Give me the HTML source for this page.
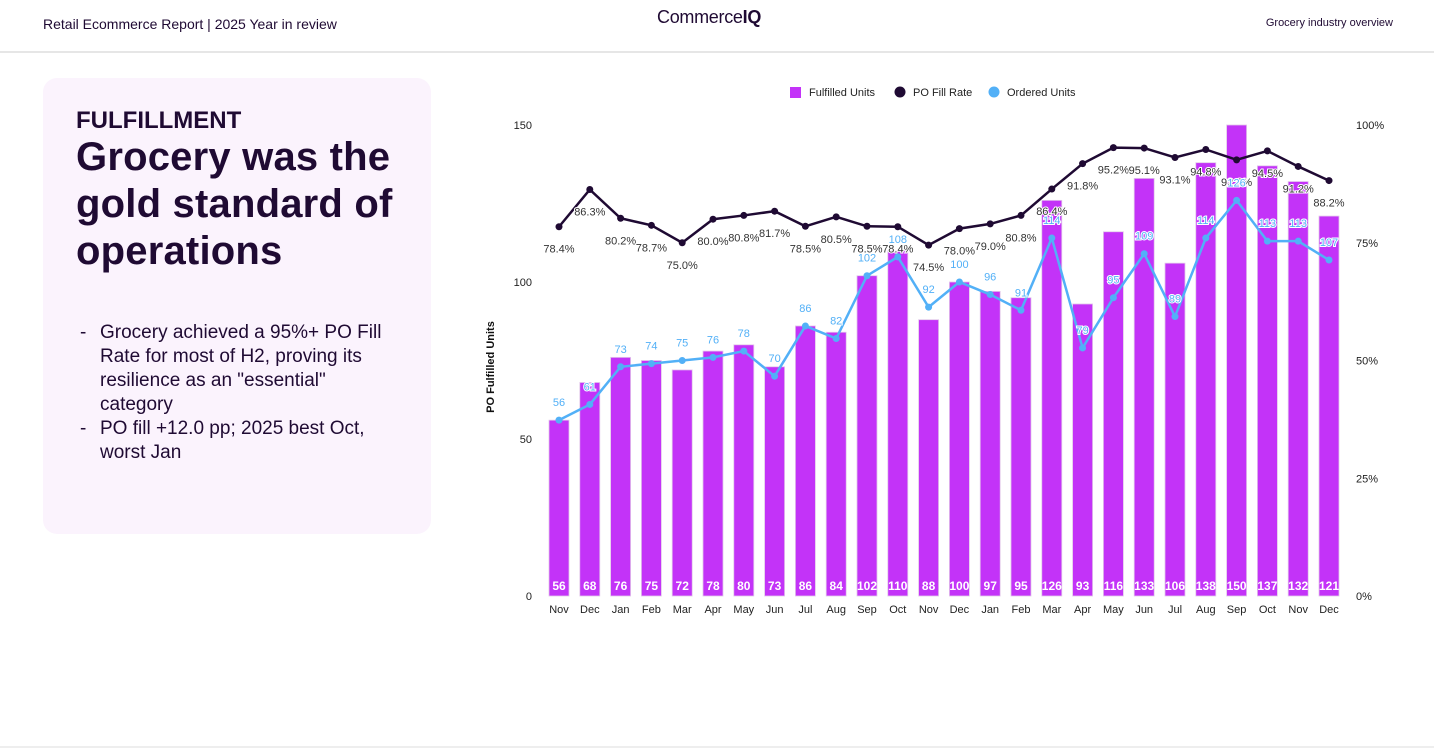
<!DOCTYPE html>
<html><head><meta charset="utf-8"><style>
body{margin:0;width:1434px;height:751px;background:#fff;font-family:"Liberation Sans",sans-serif;color:#1f0a33;position:relative;overflow:hidden}
.hdr{position:absolute;top:0;left:0;width:1434px;height:51px;border-bottom:2px solid #e6e6e6}
.card{position:absolute;left:43px;top:78px;width:388px;height:456px;background:#fbf3fd;border-radius:14px}
</style></head><body>
<div class="hdr">
<div style="position:absolute;left:43px;top:16px;font-size:14px">Retail Ecommerce Report | 2025 Year in review</div>
<div style="position:absolute;left:657px;top:7px;font-size:18px;letter-spacing:-0.3px">Commerce<b>IQ</b></div>
<div style="position:absolute;right:41px;top:17px;font-size:11px">Grocery industry overview</div>
</div>
<div class="card">
<div style="position:absolute;left:33px;top:29px;font-size:24px;font-weight:bold">FULFILLMENT</div>
<div style="position:absolute;left:33px;top:56px;width:350px;font-size:40px;font-weight:bold;line-height:47px;letter-spacing:0.2px">Grocery was the gold standard of operations</div>
<ul style="position:absolute;left:33px;top:243px;width:318px;margin:0;padding:0;list-style:none;font-size:19px;line-height:24px">
<li style="padding-left:24px;position:relative"><span style="position:absolute;left:4px">-</span>Grocery achieved a 95%+ PO Fill Rate for most of H2, proving its resilience as an "essential" category</li>
<li style="padding-left:24px;position:relative"><span style="position:absolute;left:4px">-</span>PO fill +12.0 pp; 2025 best Oct, worst Jan</li>
</ul>
</div>
<svg id="chart" width="1434" height="751" style="position:absolute;left:0;top:0" font-family="Liberation Sans, sans-serif"></svg>
<div style="position:absolute;left:0;top:746px;width:1434px;height:2px;background:#eee"></div>
<script>
const categories=["Nov","Dec","Jan","Feb","Mar","Apr","May","Jun","Jul","Aug","Sep","Oct","Nov","Dec","Jan","Feb","Mar","Apr","May","Jun","Jul","Aug","Sep","Oct","Nov","Dec"];
const fulfilledUnits=[56,68,76,75,72,78,80,73,86,84,102,110,88,100,97,95,126,93,116,133,106,138,150,137,132,121];
const poFillRate=[78.4,86.3,80.2,78.7,75.0,80.0,80.8,81.7,78.5,80.5,78.5,78.4,74.5,78.0,79.0,80.8,86.4,91.8,95.2,95.1,93.1,94.8,92.6,94.5,91.2,88.2];
const orderedUnits=[56,61,73,74,75,76,78,70,86,82,102,108,92,100,96,91,114,79,95,109,89,114,126,113,113,107];
const leftTicks=[0,50,100,150];
const rightTicks=[0,25,50,75,100];
const svg=document.getElementById('chart');const NS='http://www.w3.org/2000/svg';
const X0=543.6,BW=30.8,Y0=596,Y1=125;
const x=i=>X0+BW*(i+0.5);
const yL=v=>Y0-(v/150)*(Y0-Y1);
const yR=v=>Y0-(v/100)*(Y0-Y1);
function mk(t,a,txt){const e=document.createElementNS(NS,t);for(const k in a)e.setAttribute(k,a[k]);if(txt!=null)e.textContent=txt;svg.appendChild(e);return e;}
leftTicks.forEach(v=>{const e=mk('text',{x:532,y:yL(v)+4,'text-anchor':'end','font-size':11,fill:'#222'},v);

});
rightTicks.forEach(v=>{const e=mk('text',{x:1356,y:yR(v)+4,'font-size':11,fill:'#222'},v+'%');

});
const yt=mk('text',{x:494,y:367,'text-anchor':'middle','font-size':11,'font-weight':'bold',fill:'#111',transform:'rotate(-90 494 367)'},'PO Fulfilled Units');


fulfilledUnits.forEach((v,i)=>{const r=mk('rect',{x:x(i)-10,y:yL(v),width:20,height:Y0-yL(v),fill:'#c333f8',stroke:'#e2c8ea','stroke-width':0.8});


const t=mk('text',{x:x(i),y:590,'text-anchor':'middle','font-size':12,'font-weight':'bold',fill:'#fff'},v);

});
categories.forEach((c,i)=>{const t=mk('text',{x:x(i),y:613,'text-anchor':'middle','font-size':11,fill:'#222'},c);

});
const pl=mk('polyline',{points:poFillRate.map((v,i)=>x(i)+','+yR(v)).join(' '),fill:'none',stroke:'#1f0a33','stroke-width':2.5});


poFillRate.forEach((v,i)=>{const c=mk('circle',{cx:x(i),cy:yR(v),r:3.5,fill:'#1f0a33'});


const t=mk('text',{x:x(i),y:yR(v)+26,'text-anchor':'middle','font-size':11,fill:'#333',stroke:'#fff','stroke-width':2,'paint-order':'stroke'},v.toFixed(1)+'%');

});
const ol=mk('polyline',{points:orderedUnits.map((v,i)=>x(i)+','+yL(v)).join(' '),fill:'none',stroke:'#52b0f7','stroke-width':2.5});


orderedUnits.forEach((v,i)=>{const c=mk('circle',{cx:x(i),cy:yL(v),r:3.5,fill:'#52b0f7'});


const t=mk('text',{x:x(i),y:yL(v)-14,'text-anchor':'middle','font-size':11,fill:'#52b0f7',stroke:'#fff','stroke-width':2,'paint-order':'stroke'},v);

});
const leg=[[790,'rect','#c333f8','Fulfilled Units'],[894,'circle','#1f0a33','PO Fill Rate'],[988,'circle','#52b0f7','Ordered Units']];
leg.forEach(l=>{let m;if(l[1]=='rect')m=mk('rect',{x:l[0],y:87,width:11,height:11,fill:l[2]});else m=mk('circle',{cx:l[0]+6,cy:92,r:5.5,fill:l[2]});


const t=mk('text',{x:l[0]+19,y:96,'font-size':11,fill:'#222'},l[3]);

});
</script>
</body></html>
